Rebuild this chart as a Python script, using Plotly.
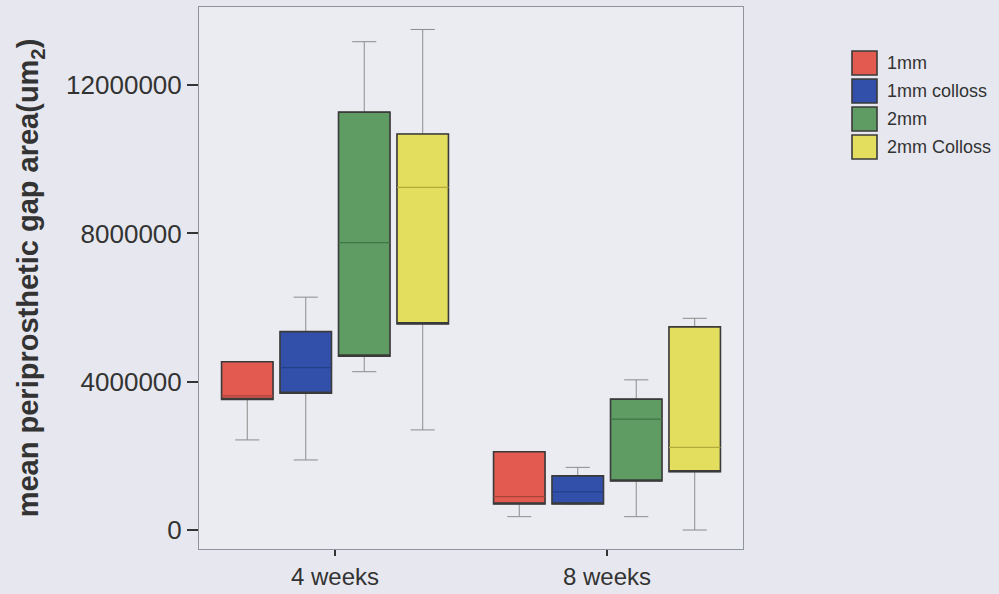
import plotly.graph_objects as go

# Time points on the x axis
periods = ["4 weeks", "8 weeks"]

# Implant groups
groups = ["1mm", "1mm colloss", "2mm", "2mm Colloss"]

# Box statistics per group, one value per time point (um^2)
q1_1mm = [3.52e6, 0.70e6]
med_1mm = [3.62e6, 0.90e6]
q3_1mm = [4.54e6, 2.11e6]
lo_1mm = [2.43e6, 0.36e6]
hi_1mm = [4.54e6, 2.11e6]

q1_1mmc = [3.69e6, 0.70e6]
med_1mmc = [4.38e6, 1.03e6]
q3_1mmc = [5.35e6, 1.46e6]
lo_1mmc = [1.89e6, 0.70e6]
hi_1mmc = [6.28e6, 1.69e6]

q1_2mm = [4.69e6, 1.32e6]
med_2mm = [7.75e6, 2.99e6]
q3_2mm = [11.27e6, 3.53e6]
lo_2mm = [4.27e6, 0.36e6]
hi_2mm = [13.17e6, 4.05e6]

q1_2mmc = [5.56e6, 1.57e6]
med_2mmc = [9.24e6, 2.23e6]
q3_2mmc = [10.68e6, 5.48e6]
lo_2mmc = [2.70e6, 0.00e6]
hi_2mmc = [13.50e6, 5.71e6]

y_ticks = [0, 4000000, 8000000, 12000000]

stats = [
    (q1_1mm, med_1mm, q3_1mm, lo_1mm, hi_1mm),
    (q1_1mmc, med_1mmc, q3_1mmc, lo_1mmc, hi_1mmc),
    (q1_2mm, med_2mm, q3_2mm, lo_2mm, hi_2mm),
    (q1_2mmc, med_2mmc, q3_2mmc, lo_2mmc, hi_2mmc),
]
fills = ["#e35b50", "#3250aa", "#5f9c63", "#e4de5e"]
median_shades = ["#a9443b", "#223f88", "#3f7547", "#b3ab3c"]
outline = "#3a3a3a"
whisker = "#8c8c8c"
text_color = "#333333"
font_family = "Liberation Sans, Arial, sans-serif"

fig = go.Figure()
for name, (q1, med, q3, lo, hi), fill, shade in zip(groups, stats, fills, median_shades):
    common = dict(x=periods, offsetgroup=name, alignmentgroup="all",
                  hoverinfo="skip", showlegend=False, name=name)
    # whiskers with caps (grey)
    fig.add_trace(go.Box(
        q1=q1, median=med, q3=q3, lowerfence=lo, upperfence=hi,
        line=dict(color=whisker, width=1), fillcolor="rgba(0,0,0,0)",
        whiskerwidth=0.47, **common))
    # filled box with dark outline
    fig.add_trace(go.Box(
        q1=q1, median=q1, q3=q3, lowerfence=q1, upperfence=q3,
        line=dict(color=outline, width=1.6), fillcolor=fill,
        whiskerwidth=0, **common))
    # median line in a darker tone of the fill
    fig.add_trace(go.Box(
        q1=med, median=med, q3=med, lowerfence=med, upperfence=med,
        line=dict(color=shade, width=1.2), fillcolor="rgba(0,0,0,0)",
        whiskerwidth=0, **common))

# Legend key: large swatches to the right of the plot area
plot_left, plot_right, plot_top, plot_bottom = 199, 743, 7, 549
pw, ph = plot_right - plot_left, plot_bottom - plot_top


def px_x(v):
    return (v - plot_left) / pw


def px_y(v):
    return (plot_bottom - v) / ph


for i, (name, fill) in enumerate(zip(groups, fills)):
    cy = 63 + 28 * i
    fig.add_shape(type="rect", xref="paper", yref="paper",
                  x0=px_x(852), x1=px_x(877), y0=px_y(cy + 12), y1=px_y(cy - 12),
                  fillcolor=fill, line=dict(color=outline, width=1.6))
    fig.add_annotation(xref="paper", yref="paper", x=px_x(885), y=px_y(cy),
                       xanchor="left", yanchor="middle", text=name, showarrow=False,
                       font=dict(size=18, color=text_color, family=font_family))

fig.update_layout(
    width=999, height=594,
    margin=dict(l=plot_left, r=999 - plot_right, t=plot_top, b=594 - plot_bottom),
    paper_bgcolor="#e7e8ef",
    plot_bgcolor="#ebebf2",
    boxmode="group",
    boxgap=0.14,
    boxgroupgap=0.12,
    showlegend=False,
    font=dict(family=font_family, color=text_color),
    xaxis=dict(
        automargin=False,
        showline=True, linecolor="#8f939c", linewidth=1, mirror=True,
        ticks="outside", ticklen=6, tickcolor=text_color, tickwidth=2,
        tickfont=dict(size=24, color=text_color),
        showgrid=False, zeroline=False,
    ),
    yaxis=dict(
        automargin=False,
        range=[-0.512e6, 14.106e6],
        tickvals=y_ticks, tickformat="d",
        showline=True, linecolor="#8f939c", linewidth=1, mirror=True,
        ticks="outside", ticklen=11, tickcolor=text_color, tickwidth=2,
        tickfont=dict(size=26, color=text_color),
        showgrid=False, zeroline=False,
        title=dict(
            text="<b>mean periprosthetic gap area(um<sub>2</sub>)</b>",
            font=dict(size=29, color=text_color), standoff=18,
        ),
    ),
)

fig.write_html("out.html")
